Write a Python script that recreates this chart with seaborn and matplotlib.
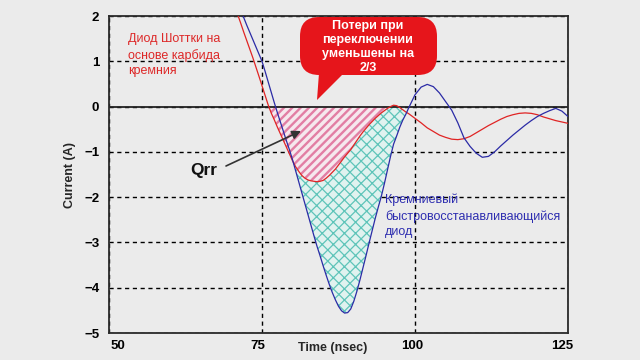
import numpy as np
import pandas as pd
import matplotlib
matplotlib.use("Agg")
import matplotlib.pyplot as plt
import seaborn as sns
from matplotlib.patches import FancyBboxPatch, Polygon
from matplotlib.transforms import ScaledTranslation

# ---------------- data ----------------
time_ns = [69, 69.5, 70, 70.5, 71, 71.5, 72, 72.5, 73, 73.5, 74, 74.5, 75, 75.5,
           76, 76.5, 77, 77.5, 78, 78.5, 79, 79.5, 80, 80.5, 81, 81.5, 82, 82.5,
           83, 83.5, 84, 84.5, 85, 85.5, 86, 86.5, 87, 87.5, 88, 88.5, 89, 89.5,
           90, 90.5, 91, 91.5, 92, 92.5, 93, 93.5, 94, 94.5, 95, 95.5, 96, 96.5,
           97, 97.5, 98, 98.5, 99, 99.5, 100, 101, 102, 103, 104, 105, 106, 107,
           108, 109, 110, 111, 112, 113, 114, 115, 116, 117, 118, 119, 120, 121,
           122, 123, 124, 125]

sic_schottky = [2.8, 2.62, 2.43, 2.24, 2.04, 1.85, 1.65, 1.46, 1.27, 1.08, 0.875, 0.67, 0.46, 0.25,
                0.04, -0.14, -0.29, -0.45, -0.6, -0.75, -0.9, -1.05, -1.2, -1.33, -1.43, -1.52, -1.58, -1.62,
                -1.64, -1.65, -1.66, -1.65, -1.63, -1.58, -1.52, -1.45, -1.38, -1.29, -1.2, -1.11, -1.03, -0.95,
                -0.85, -0.75, -0.65, -0.56, -0.48, -0.4, -0.33, -0.26, -0.2, -0.14, -0.09, -0.04, 0.0, 0.03,
                0.02, -0.02, -0.07, -0.12, -0.16, -0.21, -0.26, -0.36, -0.47, -0.55, -0.63, -0.68, -0.72, -0.73,
                -0.71, -0.66, -0.58, -0.5, -0.42, -0.35, -0.28, -0.22, -0.18, -0.15, -0.14, -0.15, -0.18, -0.23,
                -0.27, -0.31, -0.34, -0.37]

si_fast_recovery = [2.9, 2.75, 2.6, 2.45, 2.29, 2.13, 1.97, 1.8, 1.64, 1.48, 1.32, 1.16, 1.0, 0.78,
                    0.55, 0.32, 0.09, -0.13, -0.34, -0.55, -0.76, -0.96, -1.18, -1.42, -1.66, -1.9, -2.14, -2.38,
                    -2.62, -2.86, -3.09, -3.3, -3.52, -3.73, -3.93, -4.11, -4.27, -4.41, -4.51, -4.56, -4.55, -4.47,
                    -4.3, -4.08, -3.83, -3.56, -3.29, -3.01, -2.74, -2.47, -2.22, -1.98, -1.7, -1.4, -1.1, -0.83,
                    -0.65, -0.46, -0.3, -0.17, -0.02, 0.12, 0.26, 0.43, 0.49, 0.44, 0.3, 0.11, -0.08, -0.36,
                    -0.69, -0.88, -1.03, -1.12, -1.1, -1.0, -0.87, -0.75, -0.63, -0.52, -0.41, -0.31, -0.22, -0.15,
                    -0.09, -0.04, -0.1, -0.22]

x_ticks = [50, 75, 100, 125]
y_ticks = [2, 1, 0, -1, -2, -3, -4, -5]

label_sic = "Диод Шоттки на\nоснове карбида\nкремния"
label_si = "Кремниевый\nбыстровосстанавливающийся\nдиод"
callout_lines = ["Потери при", "переключении", "уменьшены на", "2/3"]

# ---------------- style ----------------
sns.set_theme(style="white")
BG = "#ebebeb"
plt.rcParams["font.family"] = ["Liberation Sans", "DejaVu Sans"]
plt.rcParams["axes.unicode_minus"] = True

t = np.array(time_ns)
red = np.array(sic_schottky)
blue = np.array(si_fast_recovery)

df = pd.DataFrame({
    "time": np.concatenate([t, t]),
    "current": np.concatenate([red, blue]),
    "diode": ["sic"] * len(t) + ["si"] * len(t),
})

fig = plt.figure(figsize=(6.4, 3.6), dpi=100, facecolor=BG)
ax = fig.add_axes([109 / 640, 27 / 360, 459 / 640, 317 / 360])
ax.set_facecolor(BG)

# hatched areas
plt.rcParams["hatch.linewidth"] = 1.7
ax.fill_between(t, red, 0, where=(red < 0) & (t < 97), interpolate=True,
                facecolor="#f6e8ee", edgecolor="#e27ea4", hatch="////", linewidth=0, zorder=1)
plt.rcParams["hatch.linewidth"] = 0.9
ax.fill_between(t, blue, red, where=(blue < red) & (t > 79) & (t < 100), interpolate=True,
                facecolor="#e0f2ef", edgecolor="#5ec4b9", hatch="xxx", linewidth=0, zorder=1)

# grid
ax.grid(True, linestyle=(0, (3, 2.6)), color="black", linewidth=1.0, zorder=0.5)
ax.set_axisbelow(True)
ax.axhline(0, color="#222222", linewidth=1.3, zorder=2)

sns.lineplot(data=df, x="time", y="current", hue="diode",
             palette={"sic": "#e02424", "si": "#2b2ba6"},
             hue_order=["sic", "si"], estimator=None, sort=False,
             linewidth=0.9, legend=False, ax=ax, zorder=3)

ax.set_xlim(50, 125)
ax.set_ylim(-5, 2)
ax.set_xticks(x_ticks)
ax.set_yticks(y_ticks)
ax.set_xticklabels([str(v) for v in x_ticks], fontsize=9.5, fontweight="bold")
ax.set_yticklabels([("\u2212" + str(-v)) if v < 0 else str(v) for v in y_ticks],
                   fontsize=9.5, fontweight="bold")
ax.tick_params(axis="both", length=0, colors="black")
ax.tick_params(axis="x", pad=5)
ax.tick_params(axis="y", pad=7)

for lbl, dx in zip(ax.get_xticklabels(), [9, -4, -3, -6]):
    lbl.set_transform(lbl.get_transform() + ScaledTranslation(dx / 100, 0, fig.dpi_scale_trans))

for s in ax.spines.values():
    s.set_visible(True)
    s.set_color("#2a2a2a")
    s.set_linewidth(1.3)

ax.set_xlabel("Time (nsec)", fontsize=9, fontweight="bold")
ax.xaxis.set_label_coords((333 - 109) / 459, (333 - 348) / 317)
ax.xaxis.label.set_va("center")
ax.set_ylabel("Current (A)", fontsize=9, fontweight="bold")
ax.yaxis.set_label_coords((70 - 109) / 459, 0.5)
ax.yaxis.label.set_va("center")

# annotations
def fx(px):
    return px / 640


def fy(py):
    return 1 - py / 360


fig.text(fx(128), fy(55), label_sic, color="#dd2828", fontsize=9, ha="left", va="center",
         linespacing=1.38)
fig.text(fx(385), fy(216), label_si, color="#2e2eb0", fontsize=9, ha="left", va="center",
         linespacing=1.38)

# callout bubble
bubble = FancyBboxPatch((fx(300), fy(75)), fx(437) - fx(300), fy(17) - fy(75),
                        boxstyle="round,pad=0,rounding_size=0.03",
                        transform=fig.transFigure, facecolor="#e6151b", edgecolor="none",
                        zorder=5, mutation_aspect=640 / 360)
fig.patches.append(bubble)
tail = Polygon([(fx(319), fy(73)), (fx(317), fy(100)), (fx(344), fy(73))], closed=True,
               transform=fig.transFigure, facecolor="#e6151b", edgecolor="none", zorder=5)
fig.patches.append(tail)
for line, py in zip(callout_lines, [26, 40, 54, 68]):
    fig.text(fx(368), fy(py), line, color="white", fontsize=9, fontweight="bold",
             ha="center", va="center", zorder=6)

fig.text(fx(204), fy(170), "Qrr", color="#111111", fontsize=12.5, fontweight="bold",
         ha="center", va="center")
ax.annotate("", xy=(301, 360 - 131), xycoords="figure pixels",
            xytext=(226, 360 - 166), textcoords="figure pixels",
            arrowprops=dict(arrowstyle="-|>", color="#333333", lw=1.2, mutation_scale=13,
                            shrinkA=0, shrinkB=0), zorder=6)

fig.savefig("out.png", dpi=100, facecolor=BG)
